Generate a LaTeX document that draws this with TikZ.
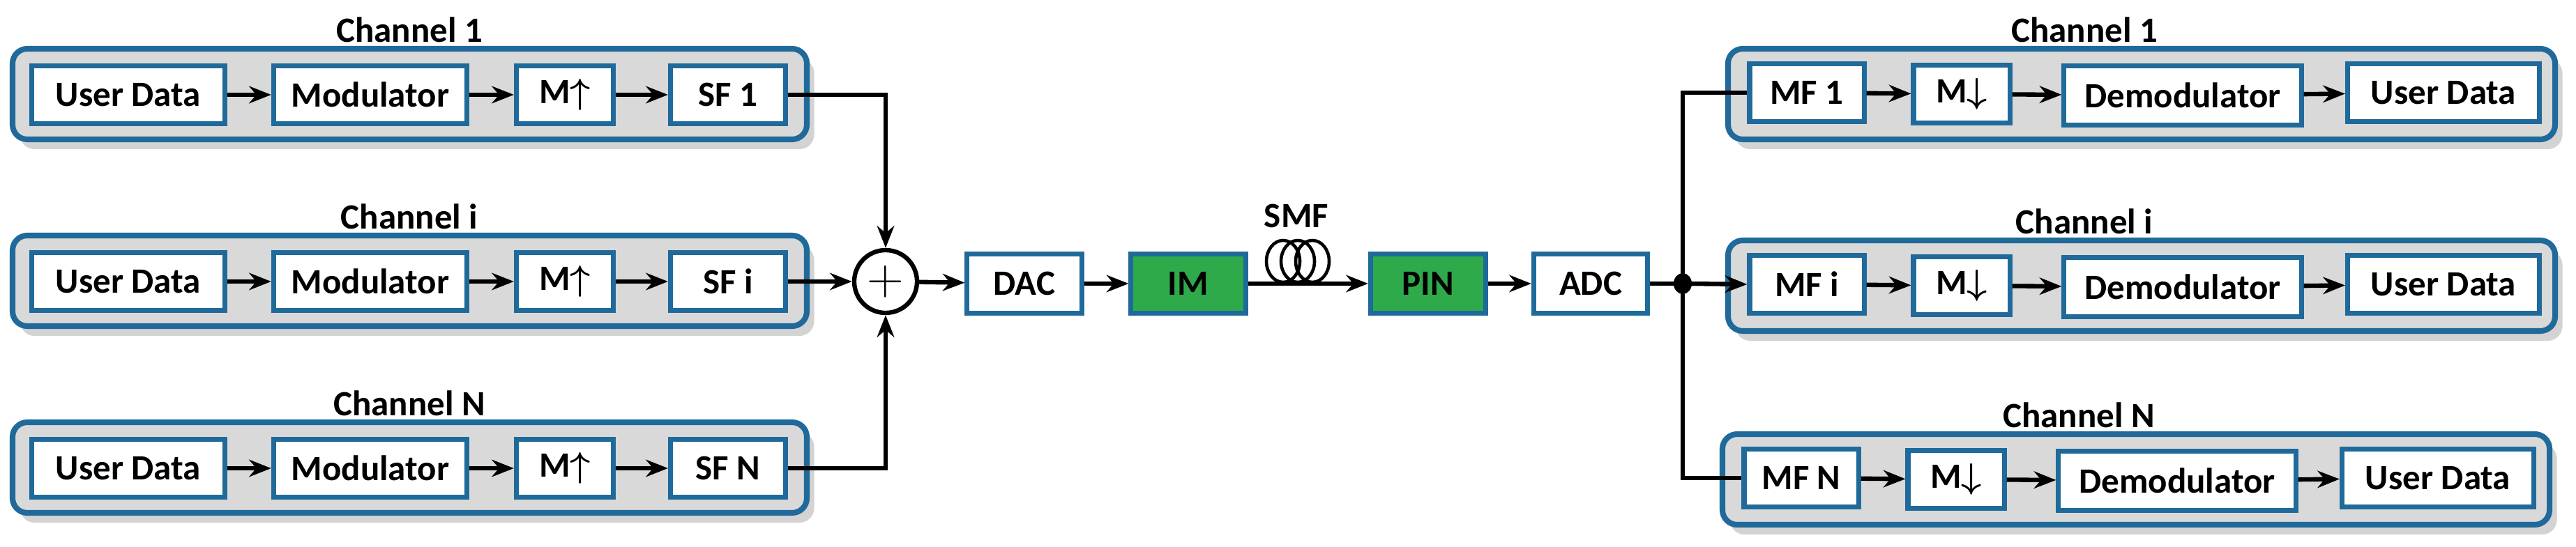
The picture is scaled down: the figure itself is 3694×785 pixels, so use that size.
\documentclass[tikz,border=0pt]{standalone}
\usepackage{bm}
\usepackage{fontspec}
\setmainfont{Carlito}
\usetikzlibrary{arrows.meta,shadows}
\definecolor{bb}{HTML}{1F6A9A}
\definecolor{gg}{HTML}{D9D9D9}
\definecolor{gr}{HTML}{2EAA4A}
\begin{document}
\begin{tikzpicture}[x=0.01cm,y=-0.01cm,
  outer/.style={draw=bb,line width=2.3pt,fill=gg,rounded corners=6pt,drop shadow={shadow xshift=3pt,shadow yshift=-4pt,opacity=0.35}},
  ib/.style={draw=bb,line width=2pt,fill=white,minimum height=0.82cm,inner sep=0pt,font=\bfseries\fontsize{14.5}{16}\selectfont},
  gb/.style={ib,fill=gr},
  ttl/.style={font=\bfseries\fontsize{14.5}{16}\selectfont},
  ar/.style={line width=1.8pt,-{Stealth[length=9pt,width=7pt]}},
  ln/.style={line width=1.8pt}]
\useasboundingbox (0,0) rectangle (3694,785);
% left channels
\foreach \cy/\lab/\sfl/\nm in {136/1/SF 1/a,404/i/SF i/b,672/N/SF N/c}{
  \draw[outer] (18,\cy-66) rectangle (1157,\cy+64);
  \node[ttl] (t\nm) at (587,\cy-93) {Channel \lab};
  \node[ib,minimum width=2.77cm] (u\nm) at (184,\cy) {User Data};
  \node[ib,minimum width=2.77cm] (m\nm) at (531,\cy) {Modulator};
  \node[ib,minimum width=1.39cm] (p\nm) at (810,\cy) {M$\bm{\uparrow}$};
  \node[ib,minimum width=1.65cm] (s\nm) at (1044,\cy) {\sfl};
  \draw[ar] (u\nm) -- (m\nm);
  \draw[ar] (m\nm) -- (p\nm);
  \draw[ar] (p\nm) -- (s\nm);
}
\node[draw,line width=1.8pt,circle,minimum size=0.9cm,inner sep=0pt,font=\fontsize{20}{20}\selectfont] (sum) at (1270,404) {$+$};
\draw[ar] (sa.east) -| (sum.north);
\draw[ar] (sc.east) -| (sum.south);
\draw[ar] (sb) -- (sum);
\node[ib,minimum width=1.64cm,minimum height=0.84cm] (dac) at (1469,407) {DAC};
\node[gb,minimum width=1.64cm,minimum height=0.84cm] (im) at (1704,407) {IM};
\node[gb,minimum width=1.65cm,minimum height=0.84cm] (pin) at (2048,407) {PIN};
\node[ib,minimum width=1.63cm,minimum height=0.84cm] (adc) at (2281,407) {ADC};
\node[ttl] (smf) at (1859,310) {SMF};
\draw[ar] (sum) -- (dac);
\draw[ar] (dac) -- (im);
\draw[ar] (im) -- (pin);
\draw[ar] (pin) -- (adc);
\foreach \x in {1840,1861,1882}{\draw[line width=1.3pt] (\x,375) ellipse [x radius=24,y radius=30];}
\coordinate (j) at (2413,407);
\draw[ln] (adc) -- (j);
\fill (j) ellipse [x radius=13,y radius=15];
% right channels
\foreach \cy/\lab/\nm/\dx in {133/1/a/0,408/i/b/0,686/N/c/-8}{
  \begin{scope}[xshift=\dx*0.01cm]
  \draw[outer] (2478,\cy-63) rectangle (3664,\cy+67);
  \node[ttl] (r\nm) at (2989,\cy-90) {Channel \lab};
  \node[ib,minimum width=1.64cm] (mf\nm) at (2591,\cy) {MF \lab};
  \node[ib,minimum width=1.38cm] (d\nm) at (2813,\cy+2) {M$\bm{\downarrow}$};
  \node[ib,minimum width=3.4cm,minimum height=0.84cm] (de\nm) at (3130,\cy+4) {Demodulator};
  \node[ib,minimum width=2.75cm] (o\nm) at (3504,\cy) {User Data};
  \end{scope}
  \draw[ar] (mf\nm) -- (d\nm);
  \draw[ar] (d\nm) -- (de\nm);
  \draw[ar] (de\nm) -- (o\nm);
}
\draw[ln] (j) |- (mfa.west);
\draw[ln] (j) |- (mfc.west);
\draw[ar] (j) -- (mfb.west);
\end{tikzpicture}
\end{document}
